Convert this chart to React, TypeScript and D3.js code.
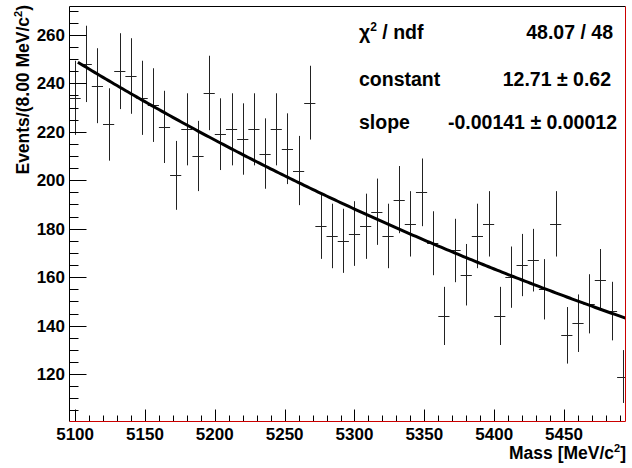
import React from 'react';
import * as d3 from 'd3';

const MASS = [5100, 5108, 5116, 5124, 5132, 5140, 5148, 5156, 5164, 5172,
  5180, 5188, 5196, 5204, 5212, 5220, 5228, 5236, 5244, 5252,
  5260, 5268, 5276, 5284, 5292, 5300, 5308, 5316, 5324, 5332,
  5340, 5348, 5356, 5364, 5372, 5380, 5388, 5396, 5404, 5412,
  5420, 5428, 5436, 5444, 5452, 5460, 5468, 5476, 5484, 5492];
const COUNTS = [234, 248, 239, 223, 245, 243, 234, 231, 222, 202,
  221, 210, 236, 219, 221, 217, 221, 211, 221, 213,
  204, 232, 181, 177, 175, 178, 181, 187, 177, 192,
  182, 195, 174, 144, 171, 161, 177, 182, 144, 160,
  165, 167, 155, 182, 136, 141, 149, 159, 146, 119];
const X_TICKS = [5100, 5150, 5200, 5250, 5300, 5350, 5400, 5450];
const X_MINOR = [5110, 5120, 5130, 5140, 5160, 5170, 5180, 5190, 5210, 5220, 5230, 5240,
  5260, 5270, 5280, 5290, 5310, 5320, 5330, 5340, 5360, 5370, 5380, 5390,
  5410, 5420, 5430, 5440, 5460, 5470, 5480, 5490];
const Y_TICKS = [120, 140, 160, 180, 200, 220, 240, 260];
const Y_MINOR = [105, 110, 115, 125, 130, 135, 145, 150, 155, 165, 170, 175, 185, 190, 195,
  205, 210, 215, 225, 230, 235, 245, 250, 255, 265, 270];
const FIT_CONST = 12.71;
const FIT_SLOPE = -0.00141;
const FIT_RANGE = [5102, 5494];
const BIN_WIDTH = 8;
const STAT_LABELS = ['χ', 'constant', 'slope'];
const STAT_VALUES = ['48.07 / 48', '12.71 ± 0.62', '-0.00141 ± 0.00012'];

const FONT = '"Liberation Sans", Arial, Helvetica, sans-serif';

export default function App() {
  const W = 632, H = 468;
  const L = 69.5, R = 625.5, T = 6.5, B = 421.5;
  const x = d3.scaleLinear().domain([5096, 5494]).range([L, R]);
  const y = d3.scaleLinear().domain([100.44, 271.68]).range([B, T]);

  const fitPts: [number, number][] = d3.range(FIT_RANGE[0], FIT_RANGE[1] + 0.001, 2)
    .map((m) => [m, Math.exp(FIT_CONST + FIT_SLOPE * m)]);
  const fitLine = d3.line<[number, number]>().x((d) => x(d[0])).y((d) => y(d[1]))(fitPts) || '';

  const statY = [39, 86, 129];
  const valX = [613, 611, 617];

  return (
    <svg width={W} height={H} style={{ position: 'absolute', left: 0, top: 0, background: '#fff' }}
      fontFamily={FONT} fontWeight="bold">
      <defs>
        <clipPath id="frame">
          <rect x={L} y={T} width={R - L} height={B - T} />
        </clipPath>
      </defs>
      <rect x={0} y={0} width={W} height={H} fill="#fff" />
      {/* frame */}
      <line x1={L} x2={R} y1={T} y2={T} stroke="#000" strokeWidth={1} />
      <line x1={L} x2={L} y1={T} y2={B} stroke="#000" strokeWidth={1} />
      {/* data */}
      <g clipPath="url(#frame)" stroke="#222" strokeWidth={1}>
        {MASS.map((m, i) => {
          const n = COUNTS[i];
          const e = Math.sqrt(n);
          const cx = Math.round(x(m)) + 0.5;
          const cy = Math.round(y(n)) + 0.5;
          return (
            <g key={i}>
              <line x1={cx} x2={cx} y1={y(n + e)} y2={y(n - e)} />
              <line x1={x(m - BIN_WIDTH / 2)} x2={x(m + BIN_WIDTH / 2)} y1={cy} y2={cy} />
            </g>
          );
        })}
      </g>
      <path d={fitLine} fill="none" stroke="#000" strokeWidth={3} clipPath="url(#frame)" />
      {/* x ticks */}
      <g stroke="#000" strokeWidth={1}>
        {X_TICKS.map((t) => (
          <line key={t} x1={Math.round(x(t)) + 0.5} x2={Math.round(x(t)) + 0.5} y1={B} y2={B - 12} />
        ))}
        {X_MINOR.map((t) => (
          <line key={t} x1={Math.round(x(t)) + 0.5} x2={Math.round(x(t)) + 0.5} y1={B} y2={B - 6} />
        ))}
        {Y_TICKS.map((t) => (
          <line key={t} x1={L} x2={L + 17} y1={Math.round(y(t)) + 0.5} y2={Math.round(y(t)) + 0.5} />
        ))}
        {Y_MINOR.map((t) => (
          <line key={t} x1={L} x2={L + 9} y1={Math.round(y(t)) + 0.5} y2={Math.round(y(t)) + 0.5} />
        ))}
      </g>
      <line x1={L} x2={R} y1={B} y2={B} stroke="#cc0000" strokeWidth={1} />
      <line x1={R} x2={R} y1={T} y2={B} stroke="#cc0000" strokeWidth={1} />
      {/* tick labels */}
      <g fontSize={17} fill="#000">
        {X_TICKS.map((t) => (
          <text key={t} x={x(t)} y={440} textAnchor="middle">{t}</text>
        ))}
        {Y_TICKS.map((t) => (
          <text key={t} x={65} y={y(t) + 6} textAnchor="end">{t}</text>
        ))}
      </g>
      {/* axis titles */}
      <text x={626} y={459} textAnchor="end" fontSize={17.5}>
        Mass [MeV/c<tspan dy={-7} fontSize={11}>2</tspan><tspan dy={7}>]</tspan>
      </text>
      <text transform="translate(28.5,5) rotate(-90)" textAnchor="end" fontSize={17.5}>
        Events/(8.00 MeV/c<tspan dy={-7} fontSize={11}>2</tspan><tspan dy={7}>)</tspan>
      </text>
      {/* stats */}
      <g fontSize={19.5} fill="#000">
        <text x={359} y={statY[0]}>
          {STAT_LABELS[0]}<tspan dy={-8} fontSize={12}>2</tspan><tspan dy={8}> / ndf</tspan>
        </text>
        <text x={359} y={statY[1]}>{STAT_LABELS[1]}</text>
        <text x={359} y={statY[2]}>{STAT_LABELS[2]}</text>
        {STAT_VALUES.map((v, i) => (
          <text key={i} x={valX[i]} y={statY[i]} textAnchor="end">{v}</text>
        ))}
      </g>
    </svg>
  );
}
